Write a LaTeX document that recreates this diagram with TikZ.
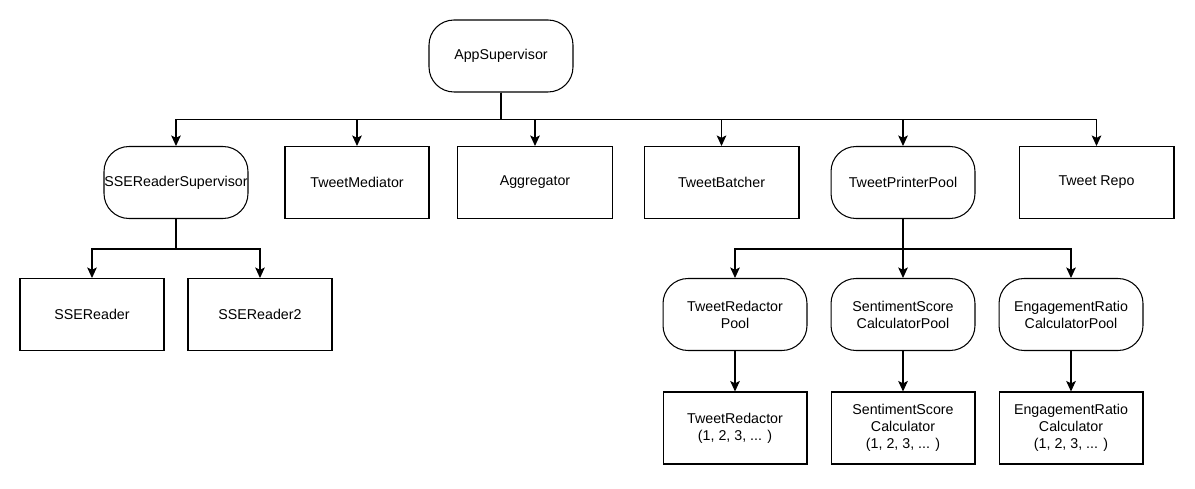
\documentclass[tikz,border=0pt]{standalone}
\usepackage{fontspec}
\setmainfont{Liberation Sans}
\usetikzlibrary{arrows.meta}
\begin{document}
\begin{tikzpicture}[x=0.02cm,y=-0.02cm]
\tikzstyle{box_round} = [draw, line width=0.6pt, rounded corners=0.5cm, minimum width=2.88cm, minimum height=1.44cm, inner sep=0pt, align=center, font=\fontsize{8.1}{9.6}\selectfont]
\tikzstyle{box_rect} = [draw, line width=0.6pt, minimum width=2.88cm, minimum height=1.44cm, inner sep=0pt, align=center, font=\fontsize{8.1}{9.6}\selectfont]
\tikzstyle{box_wide} = [box_rect, minimum width=3.1cm]
\tikzstyle{edge_arrow} = [line width=0.6pt, -{Stealth[length=6pt,width=5.5pt,inset=1.4pt]}]
    \useasboundingbox (0,0) rectangle (1195,489);

    \node[box_round] (app) at (501,56) {AppSupervisor};

    \node[box_round] (sup) at (176,182.5) {SSEReaderSupervisor};
    \node[box_rect] (med) at (357,182.5) {TweetMediator};
    \node[box_wide] (agg) at (535,182.5) {Aggregator};
    \node[box_wide] (bat) at (721.5,182.5) {TweetBatcher};
    \node[box_round] (pool) at (903,182.5) {TweetPrinterPool};
    \node[box_wide] (repo) at (1096.5,182.5) {Tweet Repo};

    \draw[edge_arrow] (app.south) -- ++(0,27) -| (sup.north);
    \draw[edge_arrow] (app.south) -- ++(0,27) -| (med.north);
    \draw[edge_arrow] (app.south) -- ++(0,27) -| (agg.north);
    \draw[edge_arrow] (app.south) -- ++(0,27) -| (bat.north);
    \draw[edge_arrow] (app.south) -- ++(0,27) -| (pool.north);
    \draw[edge_arrow] (app.south) -- ++(0,27) -| (repo.north);

    \node[box_rect] (rd1) at (92,314.5) {SSEReader};
    \node[box_rect] (rd2) at (260,314.5) {SSEReader2};

    \draw[edge_arrow] (sup.south) -- ++(0,30) -| (rd1.north);
    \draw[edge_arrow] (sup.south) -- ++(0,30) -| (rd2.north);

    \node[box_round] (redpool) at (735,314.5) {TweetRedactor\\Pool};
    \node[box_round] (sentpool) at (903,314.5) {SentimentScore\\CalculatorPool};
    \node[box_round] (engpool) at (1071,314.5) {EngagementRatio\\CalculatorPool};

    \draw[edge_arrow] (pool.south) -- ++(0,30) -| (redpool.north);
    \draw[edge_arrow] (pool.south) -- (sentpool.north);
    \draw[edge_arrow] (pool.south) -- ++(0,30) -| (engpool.north);

    \node[box_rect] (red) at (735,428) {TweetRedactor\\(1, 2, 3, ... )};
    \node[box_rect] (sent) at (903,428) {SentimentScore\\Calculator\\(1, 2, 3, ... )};
    \node[box_rect] (eng) at (1071,428) {EngagementRatio\\Calculator\\(1, 2, 3, ... )};

    \draw[edge_arrow] (redpool) -- (red);
    \draw[edge_arrow] (sentpool) -- (sent);
    \draw[edge_arrow] (engpool) -- (eng);
\end{tikzpicture}
\end{document}
